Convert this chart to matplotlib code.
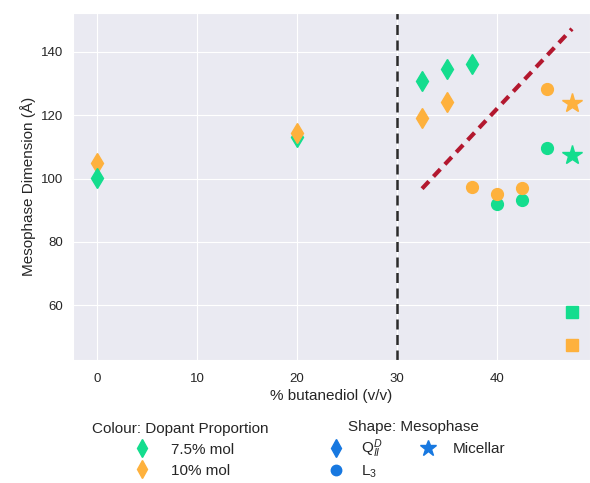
import numpy as np
import matplotlib
matplotlib.use("Agg")
import matplotlib.pyplot as plt
import seaborn as sns
from matplotlib.lines import Line2D

# data
# Q_II^D (diamonds)
qd_x = [0, 20, 32.5, 35, 37.5]
qd_75 = [100.2, 113.2, 130.7, 134.7, 136.3]
qd_x10 = [0, 20, 32.5, 35]
qd_10 = [104.9, 114.4, 119.1, 124.1]

# L3 (circles)
l3_x75 = [40, 42.5, 45]
l3_75 = [92.1, 93.3, 109.6]
l3_x10 = [37.5, 40, 42.5, 45]
l3_10 = [97.3, 95.2, 96.9, 128.3]

# Micellar (stars)
mic_x = [47.5]
mic_75 = [107.3]
mic_10 = [123.9]

# squares
sq_x = [47.5]
sq_75 = [57.8]
sq_10 = [47.4]

# trend line and boundary
trend_x = [32.5, 47.5]
trend_y = [96.8, 147.3]
boundary_x = 30

green = "#14dd8e"
orange = "#feb13d"
blue = "#1778e0"

sns.set_style("darkgrid")
plt.rcParams["font.family"] = ["Liberation Sans", "DejaVu Sans"]
plt.rcParams["mathtext.fontset"] = "custom"
plt.rcParams["mathtext.rm"] = "Liberation Sans"
plt.rcParams["mathtext.it"] = "Liberation Sans:italic"

fig = plt.figure(figsize=(5.9, 4.83), dpi=100)
ax = fig.add_axes([0.124, 0.255, 0.876, 0.718])

ax.axvline(boundary_x, color="#2b2b2b", linestyle=(0, (4, 2.2)), linewidth=1.8, zorder=2)
ax.plot(trend_x, trend_y, color="#b3182f", linestyle=(0, (2.4, 1.6)), linewidth=3, zorder=2)

# diamonds: orange below green at x=0, green below orange elsewhere
ms_d = 10.5
ax.plot(qd_x10[:1], qd_10[:1], "d", color=orange, markersize=ms_d, zorder=3)
ax.plot(qd_x, qd_75, "d", color=green, markersize=ms_d, zorder=3, linestyle="none")
ax.plot(qd_x10[1:], qd_10[1:], "d", color=orange, markersize=ms_d, zorder=3, linestyle="none")

ax.plot(l3_x75, l3_75, "o", color=green, markersize=8.5, zorder=3, linestyle="none")
ax.plot(l3_x10, l3_10, "o", color=orange, markersize=8.5, zorder=3, linestyle="none")

ax.plot(mic_x, mic_75, "*", color=green, markersize=15, zorder=3)
ax.plot(mic_x, mic_10, "*", color=orange, markersize=15, zorder=3)

ax.plot(sq_x, sq_75, "s", color=green, markersize=8, zorder=3)
ax.plot(sq_x, sq_10, "s", color=orange, markersize=8, zorder=3)

ax.set_xlim(-2.4, 49.3)
ax.set_ylim(42.7, 152.3)
ax.set_xticks([0, 10, 20, 30, 40])
ax.set_yticks([60, 80, 100, 120, 140])
ax.tick_params(labelsize=9.5)
ax.tick_params(axis="x", pad=6)
ax.set_xlabel("% butanediol (v/v)", fontsize=11, labelpad=3)
ax.set_ylabel("Mesophase Dimension (Å)", fontsize=11)

colour_handles = [
    Line2D([], [], marker="d", color=green, linestyle="none", markersize=9),
    Line2D([], [], marker="d", color=orange, linestyle="none", markersize=9),
]
leg1 = fig.legend(colour_handles, ["7.5% mol", "10% mol"],
                  title="Colour: Dopant Proportion", loc="upper center",
                  bbox_to_anchor=(0.305, 0.155), frameon=False,
                  fontsize=11, title_fontsize=11, handletextpad=0.9,
                  labelspacing=0.45)

shape_handles = [
    Line2D([], [], marker="d", color=blue, linestyle="none", markersize=9),
    Line2D([], [], marker="o", color=blue, linestyle="none", markersize=7.5),
    Line2D([], [], marker="*", color=blue, linestyle="none", markersize=12),
]
leg2 = fig.legend(shape_handles, [r"Q$_{II}^{D}$", r"L$_3$", "Micellar"],
                  title="Shape: Mesophase", loc="upper center",
                  bbox_to_anchor=(0.70, 0.158), frameon=False, ncol=2,
                  fontsize=11, title_fontsize=11, handletextpad=0.6,
                  columnspacing=2.0, labelspacing=0.2)

fig.savefig("out.png", dpi=100)
